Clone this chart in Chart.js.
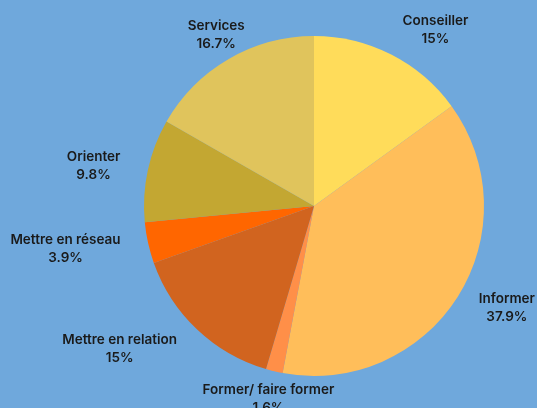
<!DOCTYPE html>
<html>
<head>
<meta charset="utf-8">
<script src="https://cdn.jsdelivr.net/npm/chart.js@4/dist/chart.umd.min.js"></script>
<style>
  html, body { margin: 0; padding: 0; background: #6fa8dc; }
  #wrap { width: 537px; height: 408px; }
</style>
</head>
<body>
<div id="wrap"><canvas id="pieChart"></canvas></div>
<script>
const labels = ['Conseiller', 'Informer', 'Former/ faire former', 'Mettre en relation', 'Mettre en réseau', 'Orienter', 'Services']
const values = [15, 37.9, 1.6, 15, 3.9, 9.8, 16.7]
const colors = ['#ffdc5a', '#ffbe5a', '#ff8f48', '#d1641f', '#ff6600', '#c3a732', '#e0c45c']

const ctx = document.getElementById('pieChart')

// draws "name / percent" outside each slice, both lines centred in their box
const outsideLabels = {
    id: 'outsideLabels',
    afterDatasetsDraw(chart) {
        const c = chart.ctx
        const meta = chart.getDatasetMeta(0)
        c.save()
        c.font = '600 13.5px Inter, sans-serif'
        c.fillStyle = '#1a1a1a'
        c.textBaseline = 'middle'
        c.textAlign = 'center'
        const lineH = 18
        meta.data.forEach((arc, i) => {
            const { x, y, startAngle, endAngle, outerRadius } = arc.getProps(['x', 'y', 'startAngle', 'endAngle', 'outerRadius'], true)
            const mid = (startAngle + endAngle) / 2
            const lines = [labels[i], values[i] + '%']
            const w = Math.max(...lines.map(t => c.measureText(t).width))
            // degrees clockwise from the top
            const deg = (mid * 180 / Math.PI + 90 + 360) % 360
            const r = outerRadius + 25
            let cx = x + Math.cos(mid) * r
            let cy = y + Math.sin(mid) * r
            if (Math.abs(deg - 180) < 20) {
                cy += 3
            } else if (deg > 325) {
                cy -= 2
            } else if (deg < 180) {
                cx += w / 2
                cy -= 2
            } else {
                cx -= w / 2 + 3
                cy += 1
            }
            c.fillText(lines[0], cx, cy - lineH / 2)
            c.fillText(lines[1], cx, cy + lineH / 2)
        })
        c.restore()
    }
}

const pieChart = new Chart(ctx, {
    type: 'pie',
    data: {
        labels: labels,
        datasets: [{
            data: values,
            backgroundColor: colors,
            borderWidth: 0
        }]
    },
    options: {
        responsive: true,
        maintainAspectRatio: false,
        animation: false,
        layout: {
            padding: { top: 36, bottom: 32, left: 144, right: 53 }
        },
        plugins: {
            legend: { display: false },
            tooltip: { enabled: false }
        }
    },
    plugins: [outsideLabels]
});
</script>
</body>
</html>
